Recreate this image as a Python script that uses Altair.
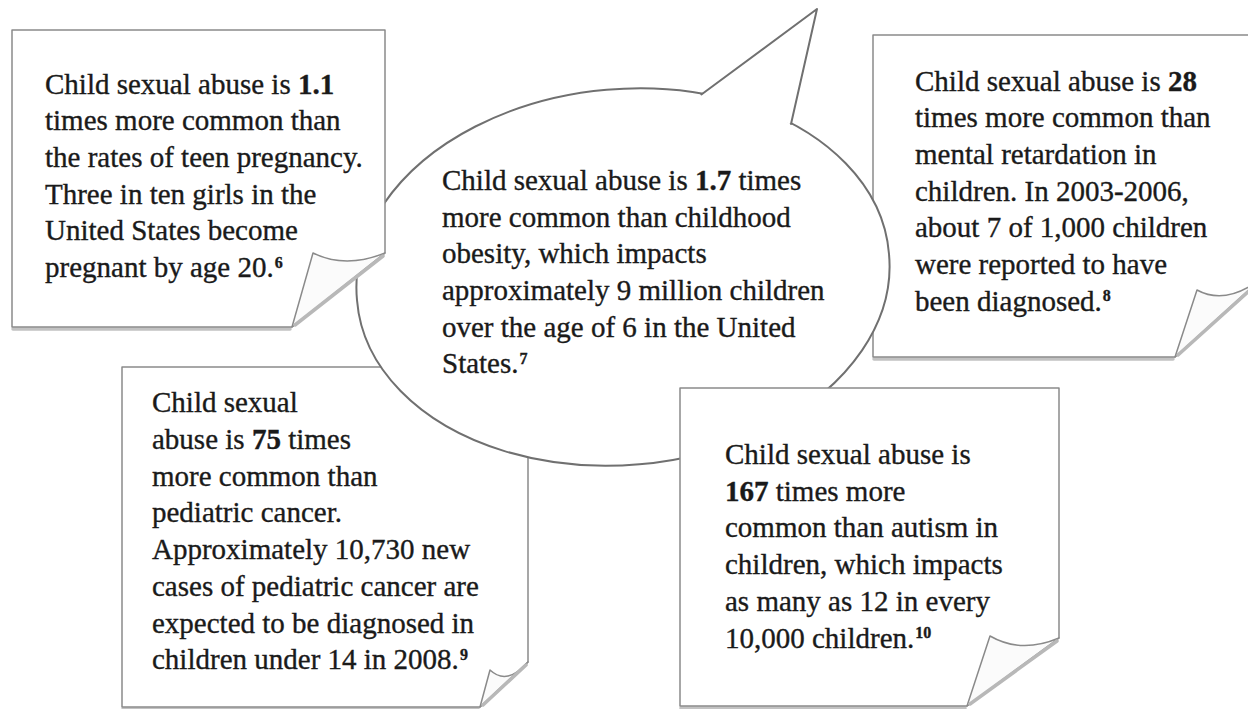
import math
import re
import altair as alt
import pandas as pd

# ---------------- page geometry (pixels of the reference picture) ----------------
PAGE_MARGIN = 8
CHART_W, CHART_H = 1240, 701

# ---------------- sticky notes ----------------
box_topic = ["teen pregnancy", "mental retardation", "pediatric cancer", "autism"]
box_left = [12, 873, 122, 680]
box_top = [30, 35, 367, 388]
box_right = [385, 1262, 528, 1059]
box_bottom = [327, 357, 707, 706]
curl_edge_y = [253, 278, 662, 638]     # where the right edge stops
curl_edge_x = [292, 1175, 480, 967]    # where the bottom edge stops
curl_tip_x = [313, 1197, 490, 990]
curl_tip_y = [253, 290, 670, 636]
box_level = [2, 0, 0, 2]               # 0 = under the speech bubble, 2 = over it

# ---------------- speech bubble ----------------
bubble_center = (623, 277)
bubble_radii = (267, 187)
bubble_tilt = -5
tail_base_left = (701.4, 94.5)
tail_tip = (817, 9)
tail_base_right = (791, 124)

# ---------------- texts ----------------
text_left = [45, 442, 915, 152, 725]
text_first_baseline = [93.5, 189.8, 90.5, 412.3, 464.0]
line_gap = 36.7
note_lines = [
    ["Child sexual abuse is **1.1**", "times more common than", "the rates of teen pregnancy.",
     "Three in ten girls in the", "United States become", "pregnant by age 20.^6"],
    ["Child sexual abuse is **1.7** times", "more common than childhood", "obesity, which impacts",
     "approximately 9 million children", "over the age of 6 in the United", "States.^7"],
    ["Child sexual abuse is **28**", "times more common than", "mental retardation in",
     "children. In 2003-2006,", "about 7 of 1,000 children", "were reported to have",
     "been diagnosed.^8"],
    ["Child sexual", "abuse is **75** times", "more common than", "pediatric cancer.",
     "Approximately 10,730 new", "cases of pediatric cancer are", "expected to be diagnosed in",
     "children under 14 in 2008.^9"],
    ["Child sexual abuse is", "**167** times more", "common than autism in",
     "children, which impacts", "as many as 12 in every", "10,000 children.^10"],
]

FONT = "Liberation Serif"
FONT_SIZE = 29
SUP_SIZE = 16
TEXT_COLOR = "#1a1a1a"
EDGE = "#8a8a8a"

# Times (Liberation Serif) advance widths, per 1000 em
WIDTH = {" ": 250, ",": 250, ".": 250, "-": 333}
for ch in "0123456789":
    WIDTH[ch] = 500
for ch, w in zip("abcdefghijklmnopqrstuvwxyz",
                 [444, 500, 444, 500, 444, 333, 500, 500, 278, 278, 500, 278, 778,
                  500, 500, 500, 500, 333, 389, 278, 500, 500, 722, 500, 500, 444]):
    WIDTH[ch] = w
for ch, w in zip("ABCDEFGHIJKLMNOPQRSTUVWXYZ",
                 [722, 667, 667, 722, 611, 556, 722, 722, 333, 389, 722, 611, 889,
                  722, 722, 556, 722, 667, 556, 611, 722, 722, 944, 722, 722, 611]):
    WIDTH[ch] = w
WIDTH_BOLD = dict(WIDTH)


def text_width(s, bold=False):
    table = WIDTH_BOLD if bold else WIDTH
    return sum(table.get(c, 500) for c in s) * FONT_SIZE / 1000.0


# ---------------- build shape table ----------------
rows = []
for i in range(len(box_topic)):
    L, T = box_left[i], box_top[i]
    w, h = box_right[i] - L, box_bottom[i] - T
    ey, ex = curl_edge_y[i] - T, curl_edge_x[i] - L
    tx, ty = curl_tip_x[i] - L, curl_tip_y[i] - T
    z = box_level[i]
    shadow = f"M1,{h + 2} L{ex - 2},{h + 2}"
    body = f"M0,0 L{w},0 L{w},{ey} L{ex},{h} L0,{h} Z"
    qx, qy = tx + 0.45 * (w - tx), max(ty, ey) + 16
    flap = f"M{w},{ey} L{ex},{h} L{tx},{ty} Q{qx:.1f},{qy} {w},{ey} Z"
    fold = f"M{w - 2},{ey + 3} L{ex + 3},{h - 2}"
    rows += [
        dict(x=L, y=T, path=shadow, fill="transparent", stroke="#c2c2c2", sw=3.5, z=z + 0.1),
        dict(x=L, y=T, path=body, fill="white", stroke=EDGE, sw=1.5, z=z + 0.2),
        dict(x=L, y=T, path=flap, fill="#fbfbfb", stroke=EDGE, sw=1.5, z=z + 0.3),
        dict(x=L, y=T, path=fold, fill="transparent", stroke="#b8b8b8", sw=3.5, z=z + 0.4),
    ]

cx, cy = bubble_center
rx, ry = bubble_radii
phi = math.radians(bubble_tilt)
ax, ay = rx * math.cos(phi), rx * math.sin(phi)
ellipse = (f"M{-ax:.2f},{-ay:.2f} A{rx},{ry} {bubble_tilt} 1 0 {ax:.2f},{ay:.2f} "
           f"A{rx},{ry} {bubble_tilt} 1 0 {-ax:.2f},{-ay:.2f} Z")
p1 = (tail_base_left[0] - cx, tail_base_left[1] - cy)
p2 = (tail_base_right[0] - cx, tail_base_right[1] - cy)
pt = (tail_tip[0] - cx, tail_tip[1] - cy)
tail = f"M{p1[0]:.1f},{p1[1]:.1f} L{pt[0]},{pt[1]} L{p2[0]:.1f},{p2[1]:.1f}"
rows.append(dict(x=cx, y=cy, path=ellipse, fill="white", stroke="#707070", sw=2, z=1.0))
rows.append(dict(x=cx, y=cy, path=tail, fill="white", stroke="#707070", sw=2, z=1.1))
shape_df = pd.DataFrame(rows)

# ---------------- build text table ----------------
trows = []
for k, lines in enumerate(note_lines):
    for j, line in enumerate(lines):
        base = text_first_baseline[k] + j * line_gap
        xpos = text_left[k]
        for seg in re.split(r"(\*\*.+?\*\*|\^\d+)", line):
            if not seg:
                continue
            if seg.startswith("**"):
                kind, txt = "bold", seg[2:-2]
            elif seg.startswith("^"):
                kind, txt = "sup", seg[1:]
            else:
                kind, txt = "regular", seg
            lead = len(txt) - len(txt.lstrip(" "))
            xpos += text_width(" " * lead)
            core = txt.strip(" ")
            if kind == "sup":
                trows.append(dict(x=xpos + 1, y=base - 9.5, text=core, kind=kind))
                continue
            trows.append(dict(x=xpos, y=base, text=core, kind=kind))
            xpos += text_width(core, kind == "bold")
            trail = len(txt) - len(txt.rstrip(" "))
            if core:
                xpos += text_width(" " * trail)
text_df = pd.DataFrame(trows)

# ---------------- scales: one data unit = one screen pixel ----------------
xs = alt.Scale(domain=[PAGE_MARGIN, PAGE_MARGIN + CHART_W], nice=False, zero=False)
ys = alt.Scale(domain=[PAGE_MARGIN, PAGE_MARGIN + CHART_H], nice=False, zero=False, reverse=True)
X = alt.X("x:Q", scale=xs, axis=None)
Y = alt.Y("y:Q", scale=ys, axis=None)

shapes = alt.Chart(shape_df).mark_point(opacity=1, filled=True, strokeJoin="round",
                                        strokeCap="round").encode(
    x=X, y=Y,
    shape=alt.Shape("path:N", scale=None, legend=None),
    fill=alt.Fill("fill:N", scale=None, legend=None),
    stroke=alt.Stroke("stroke:N", scale=None, legend=None),
    strokeWidth=alt.StrokeWidth("sw:Q", scale=None, legend=None),
    size=alt.value(4),
    order=alt.Order("z:Q"),
)

base_text = alt.Chart(text_df)
text_style = dict(align="left", baseline="alphabetic", font=FONT, color=TEXT_COLOR,
                  stroke=TEXT_COLOR, strokeWidth=0.35)
regular = base_text.transform_filter(alt.datum.kind == "regular").mark_text(
    fontSize=FONT_SIZE, **text_style
).encode(x=X, y=Y, text="text:N")
bold = base_text.transform_filter(alt.datum.kind == "bold").mark_text(
    fontSize=FONT_SIZE, fontWeight="bold", **text_style
).encode(x=X, y=Y, text="text:N")
sup = base_text.transform_filter(alt.datum.kind == "sup").mark_text(
    fontSize=SUP_SIZE, fontWeight="bold", **text_style
).encode(x=X, y=Y, text="text:N")

chart = alt.layer(shapes, regular, bold, sup).properties(
    width=CHART_W, height=CHART_H, padding=0, autosize=alt.AutoSizeParams(type="none"),
    background="white",
).configure_view(stroke=None)

chart.save("out.html", embed_options={"renderer": "svg", "actions": False})
